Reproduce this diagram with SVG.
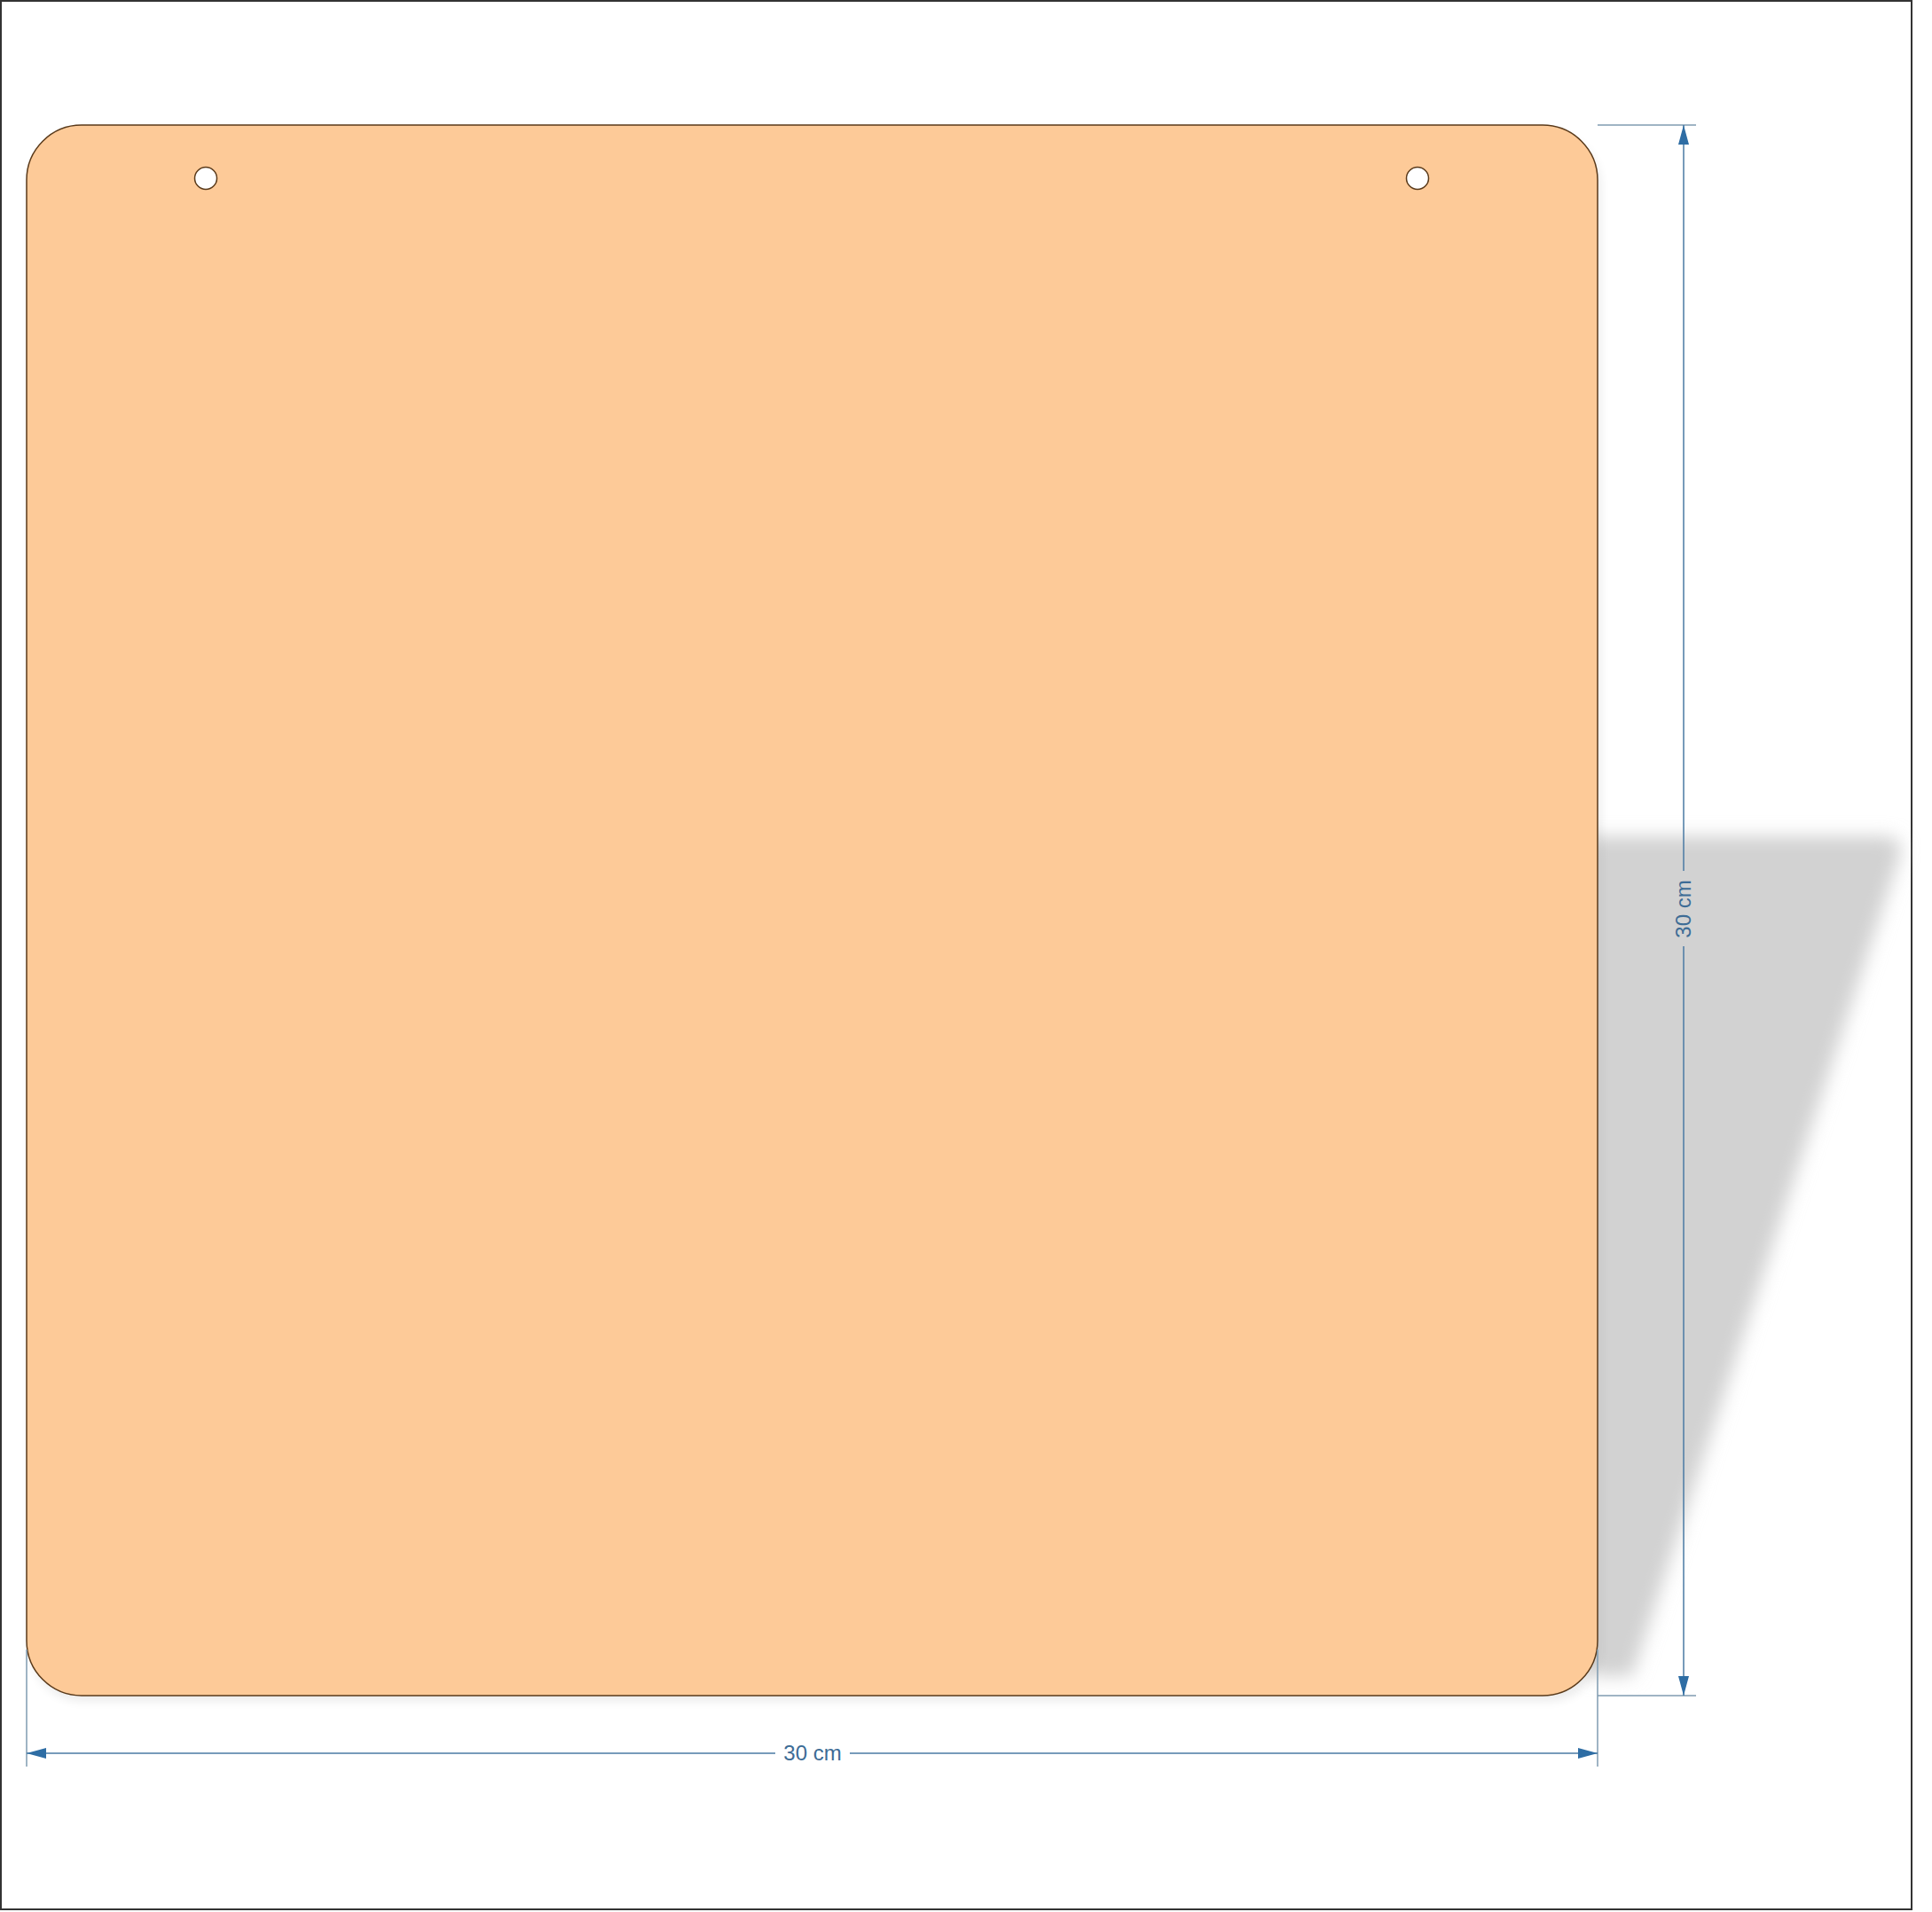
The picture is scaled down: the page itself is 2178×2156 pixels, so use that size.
<svg xmlns="http://www.w3.org/2000/svg" width="2178" height="2156" viewBox="0 0 2178 2156">
<style>
.dim{stroke:#4a7aa3;stroke-width:1.5;fill:none}
.ext{stroke:#7f9bb0;stroke-width:1.5;fill:none}
.lbl{font-family:"Liberation Sans",Arial,sans-serif;font-size:24px;fill:#3d6c96;text-anchor:middle}
.hole{fill:#ffffff;stroke:#5a3a1a;stroke-width:1.5}
</style>
<defs>
<filter id="blur" x="-20%" y="-20%" width="140%" height="140%"><feGaussianBlur stdDeviation="10"/></filter>
<filter id="soft" x="-5%" y="-5%" width="110%" height="110%"><feGaussianBlur stdDeviation="6"/></filter>
<marker id="arr" viewBox="0 0 22 12" refX="22" refY="6" markerWidth="22" markerHeight="12" markerUnits="userSpaceOnUse" orient="auto-start-reverse">
<path d="M0,0 L22,6 L0,12 Z" fill="#2e6da4"/>
</marker>
</defs>
<rect x="0" y="0" width="2178" height="2156" fill="#ffffff"/>
<rect x="1" y="1" width="2154" height="2152" fill="none" stroke="#333" stroke-width="2"/>
<g id="shadow">
<path d="M1790,943 L2125,943 Q2150,945 2140,970 L1840,1890 L1790,1890 Z" fill="#d2d2d2" filter="url(#blur)"/>
<rect x="34" y="150" width="1770" height="1768" rx="60" fill="#000" opacity="0.08" filter="url(#soft)"/>
</g>
<g id="board">
<rect x="30" y="141" width="1771" height="1771" rx="62" ry="62" fill="#fdca98" stroke="#5a3a1a" stroke-width="1.5"/>
<circle class="hole" cx="232" cy="201" r="12.5"/>
<circle class="hole" cx="1598" cy="201" r="12.5"/>
</g>
<g id="connectors">
<line class="ext" x1="1801" y1="141" x2="1912" y2="141"/>
<line class="ext" x1="1801" y1="1912" x2="1912" y2="1912"/>
<line class="ext" x1="30" y1="1860" x2="30" y2="1992"/>
<line class="ext" x1="1801" y1="1860" x2="1801" y2="1992"/>
<line class="dim" x1="30" y1="1977" x2="874" y2="1977" marker-start="url(#arr)"/>
<line class="dim" x1="958" y1="1977" x2="1801" y2="1977" marker-end="url(#arr)"/>
<line class="dim" x1="1898" y1="141" x2="1898" y2="982" marker-start="url(#arr)"/>
<line class="dim" x1="1898" y1="1067" x2="1898" y2="1912" marker-end="url(#arr)"/>
</g>
<g id="labels">
<text class="lbl" x="916" y="1985">30 cm</text>
<text class="lbl" x="0" y="0" transform="translate(1906,1025) rotate(-90)">30 cm</text>
</g>
</svg>
